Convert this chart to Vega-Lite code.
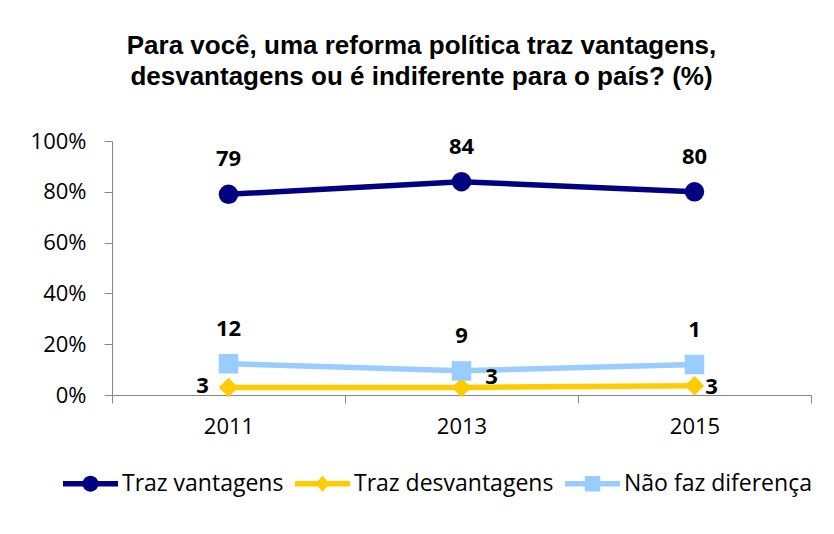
{
  "$schema": "https://vega.github.io/schema/vega-lite/v6.json",
  "width": 699,
  "height": 254,
  "autosize": {"type": "none"},
  "padding": {"left": 112, "top": 141, "right": 23, "bottom": 139},
  "background": "white",
  "config": {
    "view": {"stroke": null},
    "font": "Open Sans"
  },
  "title": {
    "text": ["Para você, uma reforma política traz vantagens,", "desvantagens ou é indiferente para o país? (%)"],
    "font": "Liberation Sans",
    "fontSize": 26,
    "fontWeight": "bold",
    "color": "#000000",
    "lineHeight": 31,
    "anchor": "middle",
    "frame": "group",
    "dx": -40,
    "offset": 40
  },
  "data": {
    "values": [
      {"year": "2011", "series": "Traz vantagens", "value": 79, "label": "79"},
      {"year": "2013", "series": "Traz vantagens", "value": 84, "label": "84"},
      {"year": "2015", "series": "Traz vantagens", "value": 80, "label": "80"},
      {"year": "2011", "series": "Traz desvantagens", "value": 3, "label": "3"},
      {"year": "2013", "series": "Traz desvantagens", "value": 3, "label": "3"},
      {"year": "2015", "series": "Traz desvantagens", "value": 3.6, "label": "3"},
      {"year": "2011", "series": "Não faz diferença", "value": 12.3, "label": "12"},
      {"year": "2013", "series": "Não faz diferença", "value": 9.5, "label": "9"},
      {"year": "2015", "series": "Não faz diferença", "value": 12, "label": "1"}
    ]
  },
  "encoding": {
    "x": {
      "field": "year",
      "type": "ordinal",
      "scale": {"type": "band", "paddingInner": 0, "paddingOuter": 0},
      "axis": {
        "title": null,
        "labelAngle": 0,
        "tickBand": "extent",
        "domainColor": "#868686",
        "tickColor": "#868686",
        "tickSize": 8,
        "labelPadding": 13,
        "labelFont": "Open Sans",
        "labelFontSize": 22,
        "labelColor": "#000000"
      }
    },
    "y": {
      "field": "value",
      "type": "quantitative",
      "scale": {"domain": [0, 100], "nice": false},
      "axis": {
        "title": null,
        "values": [0, 20, 40, 60, 80, 100],
        "labelExpr": "datum.value + '%'",
        "grid": false,
        "domainColor": "#868686",
        "tickColor": "#868686",
        "tickSize": 8,
        "labelPadding": 18,
        "labelFont": "Open Sans",
        "labelFontSize": 22,
        "labelColor": "#000000"
      }
    },
    "color": {
      "field": "series",
      "type": "nominal",
      "sort": ["Traz vantagens", "Traz desvantagens", "Não faz diferença"],
      "scale": {
        "domain": ["Traz vantagens", "Traz desvantagens", "Não faz diferença"],
        "range": ["#000080", "#FFCC00", "#99CCFF"]
      },
      "legend": {
        "title": null,
        "orient": "none",
        "direction": "horizontal",
        "legendX": -49,
        "legendY": 315,
        "symbolSize": 3025,
        "symbolStrokeWidth": 0,
        "symbolType": "M-1,-0.1H1V0.1H-1Z M0.29,0A0.29,0.29 0 1 1 -0.29,0A0.29,0.29 0 1 1 0.29,0Z",
        "labelFont": "Open Sans",
        "labelFontSize": 23,
        "labelColor": "#000000",
        "labelOffset": 4,
        "columnPadding": 11,
        "labelLimit": 300,
        "encode": {
          "symbols": {
            "enter": {
              "shape": {"signal": "datum.value === 'Traz vantagens' ? 'M-1,-0.1H1V0.1H-1Z M0.29,0A0.29,0.29 0 1 1 -0.29,0A0.29,0.29 0 1 1 0.29,0Z' : datum.value === 'Traz desvantagens' ? 'M-1,-0.1H1V0.1H-1Z M0,-0.3L0.25,0L0,0.3L-0.25,0Z' : 'M-1,-0.1H1V0.1H-1Z M-0.28,-0.28H0.28V0.28H-0.28Z'"}
            },
            "update": {
              "shape": {"signal": "datum.value === 'Traz vantagens' ? 'M-1,-0.1H1V0.1H-1Z M0.29,0A0.29,0.29 0 1 1 -0.29,0A0.29,0.29 0 1 1 0.29,0Z' : datum.value === 'Traz desvantagens' ? 'M-1,-0.1H1V0.1H-1Z M0,-0.3L0.25,0L0,0.3L-0.25,0Z' : 'M-1,-0.1H1V0.1H-1Z M-0.28,-0.28H0.28V0.28H-0.28Z'"},
              "fill": {"scale": "color", "field": "value"},
              "stroke": {"value": "transparent"},
              "opacity": {"value": 1}
            }
          }
        }
      }
    }
  },
  "layer": [
    {
      "mark": {"type": "line", "strokeWidth": 5.5}
    },
    {
      "transform": [{"filter": "datum.series === 'Traz vantagens'"}],
      "mark": {"type": "point", "shape": "circle", "filled": true, "size": 380, "opacity": 1}
    },
    {
      "transform": [{"filter": "datum.series === 'Traz desvantagens'"}],
      "mark": {"type": "point", "shape": "diamond", "filled": true, "size": 380, "opacity": 1}
    },
    {
      "transform": [{"filter": "datum.series === 'Não faz diferença'"}],
      "mark": {"type": "point", "shape": "square", "filled": true, "size": 380, "opacity": 1}
    },
    {
      "transform": [{"filter": "datum.series !== 'Traz desvantagens'"}],
      "mark": {"type": "text", "dy": -35, "font": "Open Sans", "fontSize": 22, "fontWeight": "bold"},
      "encoding": {"text": {"field": "label"}, "color": {"value": "#000000"}}
    },
    {
      "transform": [{"filter": "datum.series === 'Traz desvantagens' && datum.year === '2011'"}],
      "mark": {"type": "text", "dx": -26, "dy": -1, "font": "Open Sans", "fontSize": 22, "fontWeight": "bold"},
      "encoding": {"text": {"field": "label"}, "color": {"value": "#000000"}}
    },
    {
      "transform": [{"filter": "datum.series === 'Traz desvantagens' && datum.year === '2013'"}],
      "mark": {"type": "text", "dx": 30, "dy": -10, "font": "Open Sans", "fontSize": 22, "fontWeight": "bold"},
      "encoding": {"text": {"field": "label"}, "color": {"value": "#000000"}}
    },
    {
      "transform": [{"filter": "datum.series === 'Traz desvantagens' && datum.year === '2015'"}],
      "mark": {"type": "text", "dx": 17, "dy": 1, "font": "Open Sans", "fontSize": 22, "fontWeight": "bold"},
      "encoding": {"text": {"field": "label"}, "color": {"value": "#000000"}}
    }
  ]
}
